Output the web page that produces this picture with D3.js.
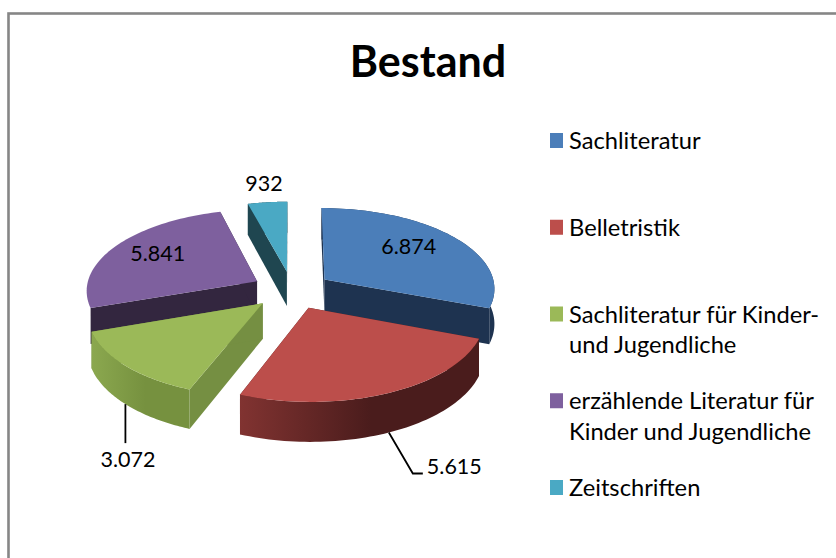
<!DOCTYPE html>
<html>
<head>
<meta charset="utf-8">
<title>Bestand</title>
<script src="https://cdn.jsdelivr.net/npm/d3@7"></script>
<style>
html, body { margin: 0; padding: 0; background: #fff; overflow: hidden; }
svg { display: block; }
text { font-family: Lato, "Open Sans", sans-serif; fill: #000; }
</style>
</head>
<body>
<div id="chart"></div>
<script>
// data
var categories = [
	["Sachliteratur"],
	["Belletristik"],
	["Sachliteratur für Kinder-", "und Jugendliche"],
	["erzählende Literatur für", "Kinder und Jugendliche"],
	["Zeitschriften"]
];
var values = [6874, 5615, 3072, 5841, 932];
var chartTitle = "Bestand";

// styles, same order as the values
var topColors = ["#4b7eb9", "#bc4e4b", "#9bb958", "#7e609e", "#4aa9c4"];
var sideColors = ["#1e3350", "#4f1f1e", "#758f42", "#33263f", "#1f4650"];
// purple shows no outer wall in the reference
var arcStops = [
	["#1e3350", "#1e3350"],
	["#813331", "#4a1c1c"],
	["#8ba84f", "#76913f"],
	null,
	["#1f4650", "#1f4650"]
];

var width = 836, height = 558;
var cx = 292, cy = 290;
var radius = 171, explode = 40, depth = 35;
var tilt = 0.472, persp = 0.0006;

var svg = d3.select("#chart").append("svg")
	.attr("width", width)
	.attr("height", height);

// frame, runs off the right and bottom of the window
svg.append("rect")
	.attr("x", 8.5).attr("y", 13.5)
	.attr("width", width + 20).attr("height", height + 20)
	.attr("fill", "#fff")
	.attr("stroke", "#868686")
	.attr("stroke-width", 2.6);

svg.append("text")
	.attr("x", 428).attr("y", 77)
	.attr("text-anchor", "middle")
	.attr("font-size", 43)
	.attr("font-weight", 700)
	.text(chartTitle);

var slices = d3.pie().sort(null).value(function(d) { return d; })(values);
var line = d3.line();
var defs = svg.append("defs");
var fmt = d3.formatLocale({ decimal: ",", thousands: ".", grouping: [3], currency: ["", ""] }).format(",");

// angle from 12 o'clock, clockwise, onto the tilted plane
function project(d, angle, r, z) {
	var mid = (d.startAngle + d.endAngle) / 2;
	var X = explode * Math.sin(mid) + r * Math.sin(angle);
	var Y = -explode * Math.cos(mid) - r * Math.cos(angle);
	var s = 1 / (1 - persp * Y);
	return [cx + X * s, cy + (Y * tilt + z) * s];
}

function arcPoints(d, z) {
	return d3.range(0, 61).map(function(i) {
		return project(d, d.startAngle + (d.endAngle - d.startAngle) * i / 60, radius, z);
	});
}

function radialWall(d, angle) {
	return [project(d, angle, 0, 0), project(d, angle, radius, 0),
		project(d, angle, radius, depth), project(d, angle, 0, depth)];
}

// back to front: teal, purple, blue, green, red
var order = [4, 3, 0, 2, 1];

order.forEach(function(i) {
	var d = slices[i];
	var g = svg.append("g").attr("class", "slice");
	var top = arcPoints(d, 0);
	var bottom = arcPoints(d, depth);

	[d.startAngle, d.endAngle].forEach(function(a) {
		g.append("path")
			.attr("d", line(radialWall(d, a)) + "Z")
			.attr("fill", sideColors[i]);
	});

	if (arcStops[i]) {
		var gradId = "wall" + i;
		var grad = defs.append("linearGradient")
			.attr("id", gradId)
			.attr("gradientUnits", "userSpaceOnUse")
			.attr("x1", d3.min(top, function(p) { return p[0]; })).attr("y1", 0)
			.attr("x2", d3.max(top, function(p) { return p[0]; })).attr("y2", 0);
		grad.append("stop").attr("offset", 0).attr("stop-color", arcStops[i][0]);
		grad.append("stop").attr("offset", 0.55).attr("stop-color", arcStops[i][1]);
		g.append("path")
			.attr("d", line(top.concat(bottom.slice().reverse())) + "Z")
			.attr("fill", "url(#" + gradId + ")");
	}

	g.append("path")
		.attr("d", line([project(d, d.startAngle, 0, 0)].concat(top)) + "Z")
		.attr("fill", topColors[i]);
});

// value labels: r on the mid angle, then a small shift. leader only for red and green
var labelSpots = [
	{ r: 115, dx: -4.5, dy: 3.5 },
	{ r: radius, z: depth, dx: 65.5, dy: 41, leader: [[24, 41], [34, 41]] },
	{ r: radius, z: depth, dx: 2.5, dy: 63, leader: [[0, 39]] },
	{ r: 115, dx: -3, dy: 3.5 },
	{ r: radius, dx: -3.5, dy: -11 }
];

slices.forEach(function(d, i) {
	var spot = labelSpots[i];
	var mid = (d.startAngle + d.endAngle) / 2;
	var p = project(d, mid, spot.r, spot.z || 0);
	if (spot.leader) {
		var pts = [p].concat(spot.leader.map(function(o) { return [p[0] + o[0], p[1] + o[1]]; }));
		svg.append("path")
			.attr("d", line(pts))
			.attr("fill", "none")
			.attr("stroke", "#000")
			.attr("stroke-width", 1.8);
	}
	svg.append("text")
		.attr("x", p[0] + spot.dx)
		.attr("y", p[1] + spot.dy)
		.attr("text-anchor", "middle")
		.attr("font-size", 21.5)
		.text(fmt(d.data));
});

// legend
var legendY = d3.scaleLinear().domain([0, categories.length - 1]).range([149, 496]);
var legend = svg.selectAll("g.legend")
	.data(categories)
	.enter().append("g")
	.attr("class", "legend")
	.attr("transform", function(d, i) { return "translate(550," + legendY(i) + ")"; });

legend.append("rect")
	.attr("x", 0).attr("y", -16)
	.attr("width", 13).attr("height", 15)
	.attr("fill", function(d, i) { return topColors[i]; });

legend.each(function(lines) {
	d3.select(this).selectAll("text")
		.data(lines)
		.enter().append("text")
		.attr("x", 19)
		.attr("y", function(t, j) { return j * 30.5; })
		.attr("font-size", 23.7)
		.text(function(t) { return t; });
});
</script>
</body>
</html>
